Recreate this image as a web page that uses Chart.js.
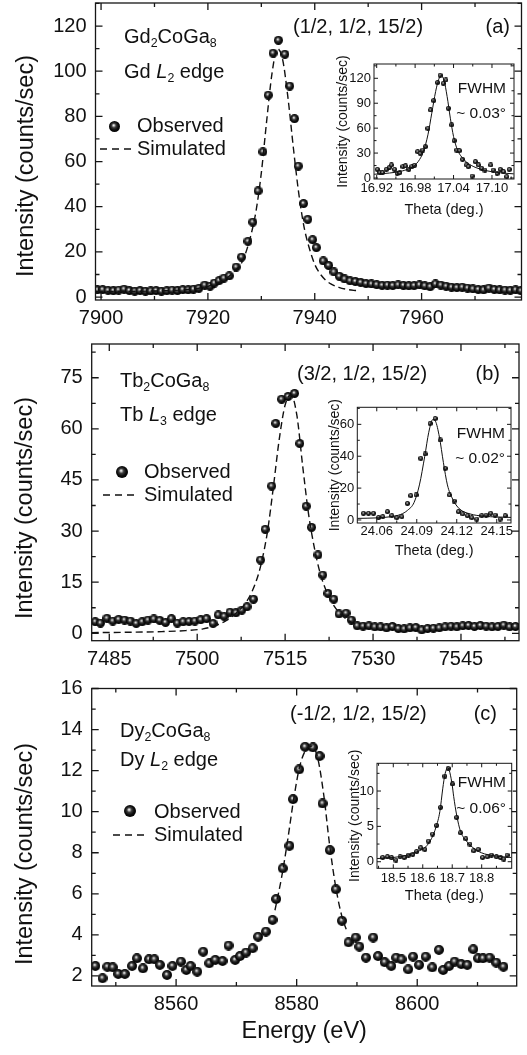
<!DOCTYPE html>
<html>
<head>
<meta charset="utf-8">
<title>Resonant scattering energy scans</title>
<script src="https://cdn.jsdelivr.net/npm/chart.js@4"></script>
<style>
  body { margin: 0; background: #fff; }
  #fig { position: relative; width: 527px; height: 1055px; overflow: hidden; background: #fff;
         font-family: "Liberation Sans", Arial, sans-serif; color: #111; }
  #fig canvas { position: absolute; }
  .t { position: absolute; white-space: nowrap; font-size: 20px; line-height: 20px; z-index: 5; }
  .s { position: absolute; white-space: nowrap; font-size: 15.5px; line-height: 15.5px; z-index: 5; }
  .yt { position: absolute; white-space: nowrap; font-size: 23.5px; line-height: 24px; z-index: 5;
        transform: translate(-50%, -50%) rotate(-90deg); }
  sub { font-size: 0.62em; vertical-align: -0.32em; line-height: 0; }
  .dash { position: absolute; z-index: 5; }
  #fig canvas.ball { z-index: 5; }
</style>
</head>
<body>
<div id="fig">
  <canvas id="mainA"></canvas>
  <canvas id="mainB"></canvas>
  <canvas id="mainC"></canvas>
  <canvas id="insetA"></canvas>
  <canvas id="insetB"></canvas>
  <canvas id="insetC"></canvas>

  <div class="yt" style="left:25px; top:166px;">Intensity (counts/sec)</div>
  <div class="yt" style="left:24px; top:508px;">Intensity (counts/sec)</div>
  <div class="yt" style="left:24px; top:854px;">Intensity (counts/sec)</div>

  <!-- panel (a) -->
  <div class="t" style="left:124px; top:26px;">Gd<sub>2</sub>CoGa<sub>8</sub></div>
  <div class="t" style="left:124px; top:61px;">Gd <i>L</i><sub>2</sub> edge</div>
  <div class="t" style="left:293px; top:16px;">(1/2, 1/2, 15/2)</div>
  <div class="t" style="right:17px; top:16px;">(a)</div>
  <canvas class="ball" data-d="11" style="left:108.5px; top:120.5px;"></canvas>
  <div class="t" style="left:137px; top:115px;">Observed</div>
  <svg class="dash" width="34" height="4" style="left:100px; top:147px;"><line x1="0" y1="2" x2="34" y2="2" stroke="#111" stroke-width="1.4" stroke-dasharray="7 5"/></svg>
  <div class="t" style="left:137px; top:138px;">Simulated</div>
  <div class="s" style="right:21px; top:80px;">FWHM</div>
  <div class="s" style="right:21px; top:105px;">~ 0.03°</div>

  <!-- panel (b) -->
  <div class="t" style="left:120px; top:370px;">Tb<sub>2</sub>CoGa<sub>8</sub></div>
  <div class="t" style="left:120px; top:404px;">Tb <i>L</i><sub>3</sub> edge</div>
  <div class="t" style="left:297px; top:363px;">(3/2, 1/2, 15/2)</div>
  <div class="t" style="right:27px; top:363px;">(b)</div>
  <canvas class="ball" data-d="12" style="left:116px; top:465.7px;"></canvas>
  <div class="t" style="left:144px; top:461px;">Observed</div>
  <svg class="dash" width="34" height="4" style="left:103px; top:493px;"><line x1="0" y1="2" x2="34" y2="2" stroke="#111" stroke-width="1.4" stroke-dasharray="7 5"/></svg>
  <div class="t" style="left:144px; top:484px;">Simulated</div>
  <div class="s" style="right:22px; top:425px;">FWHM</div>
  <div class="s" style="right:22px; top:450px;">~ 0.02°</div>

  <!-- panel (c) -->
  <div class="t" style="left:120px; top:720px;">Dy<sub>2</sub>CoGa<sub>8</sub></div>
  <div class="t" style="left:120px; top:749px;">Dy <i>L</i><sub>2</sub> edge</div>
  <div class="t" style="left:290px; top:703px;">(-1/2, 1/2, 15/2)</div>
  <div class="t" style="right:30px; top:703px;">(c)</div>
  <canvas class="ball" data-d="12" style="left:124px; top:805px;"></canvas>
  <div class="t" style="left:154px; top:801px;">Observed</div>
  <svg class="dash" width="34" height="4" style="left:113px; top:833px;"><line x1="0" y1="2" x2="34" y2="2" stroke="#111" stroke-width="1.4" stroke-dasharray="7 5"/></svg>
  <div class="t" style="left:154px; top:824px;">Simulated</div>
  <div class="s" style="right:21px; top:774px;">FWHM</div>
  <div class="s" style="right:21px; top:800px;">~ 0.06°</div>
</div>

<script>
// ---------- panel (a): Gd2CoGa8, Gd L2 edge ----------
const energyA = [7899.3, 7900.3, 7901.3, 7902.3, 7903.3, 7904.3, 7905.3, 7906.3, 7907.3, 7908.3,
  7909.3, 7910.3, 7911.3, 7912.3, 7913.3, 7914.3, 7915.3, 7916.3, 7917.3, 7918.3,
  7919.4, 7920.4, 7921.2, 7922.1, 7923.0, 7924.0, 7925.3, 7926.3, 7927.5, 7928.4,
  7929.4, 7930.3, 7931.3, 7932.2, 7933.2, 7934.4, 7935.3, 7936.2, 7936.9, 7937.9,
  7938.7, 7939.6, 7940.3, 7941.6, 7942.6, 7943.6, 7944.6, 7945.6, 7946.6, 7947.6,
  7948.6, 7949.6, 7950.6, 7951.6, 7952.6, 7953.6, 7954.6, 7955.6, 7956.6, 7957.6,
  7958.6, 7959.6, 7960.6, 7961.6, 7962.6, 7963.6, 7964.6, 7965.6, 7966.6, 7967.6,
  7968.6, 7969.6, 7970.6, 7971.6, 7972.6, 7973.6, 7974.6, 7975.6, 7976.6, 7977.6, 7978.6];
const countsA = [3.2, 3.3, 3.0, 2.8, 3.1, 3.5, 2.9, 2.6, 2.9, 2.6,
  2.7, 2.9, 2.6, 2.8, 3.1, 2.9, 3.3, 3.2, 3.5, 3.9,
  5.3, 4.8, 6.2, 7.3, 8.4, 9.4, 13.3, 17.7, 24.7, 33.2,
  47.0, 64.3, 89.4, 108.0, 113.7, 107.5, 93.4, 79.0, 58.0, 41.4,
  34.4, 25.4, 21.9, 16.0, 14.0, 11.1, 9.2, 8.0, 7.2, 6.9,
  6.5, 6.0, 5.8, 5.5, 5.2, 5.3, 5.1, 5.4, 5.2, 5.0,
  5.1, 5.4, 5.0, 4.6, 5.8, 5.3, 4.8, 4.4, 4.2, 4.4,
  4.0, 3.6, 3.4, 3.2, 4.0, 3.4, 3.2, 3.1, 3.0, 3.2, 2.8];
const simEnergyA = [7899, 7905, 7910, 7914, 7917, 7919, 7921, 7923, 7925, 7926.5, 7928, 7929, 7930,
  7931, 7932, 7933, 7934, 7935, 7936, 7937, 7938, 7939, 7940, 7941, 7942, 7943, 7944.5, 7946, 7948];
const simCountsA = [2.4, 2.5, 2.7, 3.0, 3.5, 4.2, 5.5, 7.6, 11.5, 16.0, 27.0, 38.0, 55.0,
  78.0, 99.0, 110.0, 105.0, 88.0, 66.0, 46.0, 31.0, 21.5, 14.5, 10.3, 7.6, 5.8, 4.3, 3.4, 2.8];
const xTicksA = [7900, 7920, 7940, 7960];
const xMinorA = [7910, 7930, 7950, 7970];
const yTicksA = [0, 20, 40, 60, 80, 100, 120];
const yMinorA = [10, 30, 50, 70, 90, 110, 130];

const thetaA = [16.921, 16.925, 16.929, 16.935, 16.940, 16.943, 16.948, 16.952, 16.956, 16.961,
  16.965, 16.970, 16.975, 16.979, 16.984, 16.988, 16.992, 16.996, 17.000, 17.004,
  17.009, 17.015, 17.019, 17.024, 17.028, 17.032, 17.037, 17.041, 17.045, 17.049,
  17.054, 17.060, 17.063, 17.069, 17.074, 17.079, 17.084, 17.089, 17.098, 17.102,
  17.108, 17.113, 17.118, 17.123, 17.127];
const scanA = [10.4, 6.4, 6.4, 10.4, 12.9, 15.7, 10.4, 5.6, 6.4, 13.7,
  14.5, 10.4, 13.7, 15.3, 31.7, 29.7, 33.7, 37.8, 59.8, 81.9,
  93.2, 114.9, 123.7, 114.0, 118.0, 83.9, 64.0, 45.0, 33.7, 32.9,
  22.5, 15.7, 13.7, 2.4, 19.7, 15.7, 11.6, 9.6, 15.7, 9.6,
  5.6, 10.4, 7.6, 1.6, 10.4];
const fitThetaA = [16.916, 16.94, 16.96, 16.975, 16.985, 16.993, 17.000, 17.006, 17.012, 17.017, 17.021,
  17.025, 17.030, 17.035, 17.040, 17.046, 17.053, 17.062, 17.075, 17.090, 17.110, 17.134];
const fitScanA = [4.5, 6.0, 8.5, 13.0, 20.0, 32.0, 52.0, 78.0, 104.0, 119.0, 123.0,
  118.0, 98.0, 72.0, 50.0, 34.0, 25.0, 18.0, 12.5, 9.0, 6.5, 5.0];
const insetXTicksA = [16.92, 16.98, 17.04, 17.10];
const insetXMinorA = [16.95, 17.01, 17.07, 17.13];
const insetYTicksA = [0, 30, 60, 90, 120];
const insetYMinorA = [15, 45, 75, 105, 135];

// ---------- panel (b): Tb2CoGa8, Tb L3 edge ----------
const energyB = [7482.6, 7483.5, 7484.6, 7485.6, 7486.6, 7487.6, 7488.6, 7489.6, 7490.6, 7491.6,
  7492.6, 7493.6, 7494.6, 7495.6, 7496.6, 7497.6, 7498.6, 7499.6, 7500.6, 7501.6,
  7502.7, 7503.6, 7504.6, 7505.6, 7506.6, 7507.6, 7508.5, 7509.6, 7510.8, 7511.6,
  7512.7, 7513.4, 7514.4, 7515.5, 7516.6, 7517.5, 7518.6, 7519.5, 7520.6, 7521.4,
  7522.3, 7523.3, 7524.2, 7525.4, 7526.3, 7527.3, 7528.3, 7529.3, 7530.3, 7531.3,
  7532.3, 7533.3, 7534.3, 7535.3, 7536.3, 7537.3, 7538.3, 7539.3, 7540.3, 7541.3,
  7542.3, 7543.3, 7544.3, 7545.3, 7546.3, 7547.3, 7548.3, 7549.3, 7550.3, 7551.3,
  7552.3, 7553.3, 7554.3];
const countsB = [3.4, 3.0, 4.4, 3.6, 4.1, 3.9, 3.6, 2.9, 3.4, 3.9,
  4.2, 3.8, 3.2, 4.3, 3.0, 3.4, 3.5, 3.6, 4.0, 4.3,
  2.9, 5.4, 5.0, 6.2, 6.0, 6.8, 7.8, 10.0, 21.5, 30.5,
  43.2, 61.6, 68.7, 69.5, 70.4, 55.7, 37.3, 31.1, 23.0, 17.1,
  11.7, 10.0, 5.7, 5.9, 3.9, 2.2, 2.1, 2.2, 1.9, 1.9,
  1.6, 2.0, 1.4, 1.3, 1.6, 1.7, 1.0, 1.4, 1.5, 1.6,
  1.9, 2.1, 1.9, 2.2, 2.3, 2.0, 2.3, 2.1, 1.9, 2.0,
  2.4, 1.9, 2.0];
const simEnergyB = [7482, 7488, 7494, 7498, 7501, 7503, 7505, 7507, 7508.5, 7510, 7511, 7512, 7513,
  7514, 7515, 7516, 7517, 7518, 7519, 7520, 7521, 7522, 7523, 7524, 7525, 7526, 7527];
const simCountsB = [0.2, 0.3, 0.5, 0.8, 1.3, 2.2, 3.8, 6.5, 9.5, 15.0, 21.0, 30.0, 43.0,
  57.0, 67.0, 70.0, 64.0, 49.0, 35.0, 25.0, 17.5, 12.5, 9.0, 6.5, 4.8, 3.5, 2.6];
const xTicksB = [7485, 7500, 7515, 7530, 7545];
const xMinorB = [7492.5, 7507.5, 7522.5, 7537.5, 7552.5];
const yTicksB = [0, 15, 30, 45, 60, 75];
const yMinorB = [7.5, 22.5, 37.5, 52.5, 67.5, 82.5];

const thetaB = [24.0500, 24.0538, 24.0575, 24.0613, 24.0645, 24.0680, 24.0713, 24.0750, 24.0788, 24.0830,
  24.0855, 24.0895, 24.0930, 24.0963, 24.1000, 24.1038, 24.1075, 24.1113, 24.1145, 24.1180,
  24.1213, 24.1245, 24.1280, 24.1313, 24.1350, 24.1388, 24.1420, 24.1455, 24.1488, 24.1525, 24.1563];
const scanB = [4.2, 4.2, 4.2, 1.5, 2.1, 5.2, 2.7, 1.5, 2.1, 10.4,
  15.3, 15.7, 38.7, 41.4, 60.6, 63.7, 50.2, 32.4, 15.7, 11.9,
  5.2, 3.8, 2.7, 1.5, 0.6, 2.7, 3.1, 4.2, 3.1, 0.6, 2.7];
const fitThetaB = [24.0455, 24.060, 24.070, 24.078, 24.083, 24.088, 24.092, 24.096, 24.099, 24.102,
  24.104, 24.107, 24.110, 24.113, 24.117, 24.122, 24.130, 24.140, 24.1607];
const fitScanB = [1.0, 1.3, 2.0, 3.5, 6.0, 11.0, 22.0, 40.0, 55.0, 63.0,
  62.0, 52.0, 36.0, 22.0, 13.0, 7.0, 3.8, 2.4, 1.6];
const insetXTicksB = [24.06, 24.09, 24.12, 24.15];
const insetXMinorB = [24.075, 24.105, 24.135];
const insetYTicksB = [0, 20, 40, 60];
const insetYMinorB = [10, 30, 50, 70];

// ---------- panel (c): Dy2CoGa8, Dy L2 edge ----------
const energyC = [8546.6, 8547.8, 8548.6, 8549.5, 8550.4, 8551.5, 8552.7, 8553.5, 8554.5, 8555.5,
  8556.4, 8557.3, 8558.5, 8559.4, 8560.8, 8561.7, 8562.4, 8563.5, 8564.5, 8565.5,
  8566.5, 8567.7, 8568.7, 8569.8, 8570.6, 8571.6, 8572.7, 8573.6, 8574.9, 8576.0,
  8576.6, 8577.7, 8578.8, 8579.4, 8580.4, 8581.4, 8582.7, 8583.8, 8584.3, 8585.5,
  8586.5, 8587.5, 8588.6, 8589.8, 8590.4, 8591.5, 8592.7, 8593.5, 8594.6, 8595.7,
  8596.5, 8597.4, 8598.5, 8599.3, 8600.3, 8601.4, 8602.5, 8603.6, 8604.3, 8605.3,
  8606.2, 8607.3, 8608.3, 8609.3, 8610.1, 8610.9, 8612.0, 8613.1, 8614.3];
const countsC = [2.49, 1.89, 2.45, 2.42, 2.10, 2.10, 2.49, 2.86, 2.37, 2.81,
  2.81, 2.54, 2.05, 2.49, 2.70, 2.29, 2.49, 2.21, 3.18, 2.62,
  2.78, 2.73, 3.48, 2.78, 2.97, 3.14, 3.35, 3.91, 4.16, 4.73,
  5.75, 7.24, 8.34, 10.61, 12.06, 13.16, 13.13, 12.71, 10.40, 8.13,
  6.22, 4.69, 3.64, 3.87, 3.43, 2.89, 3.87, 2.97, 2.67, 2.49,
  2.89, 2.81, 2.32, 2.94, 2.54, 2.94, 2.42, 3.27, 2.29, 2.49,
  2.70, 2.58, 2.54, 3.30, 2.86, 2.86, 2.89, 2.65, 2.45];
const simEnergyC = [8576.4, 8577.5, 8578.5, 8579.5, 8580.5, 8581.5, 8582.5, 8583.5, 8584.5, 8585.5,
  8586.5, 8587.5, 8588.3];
const simCountsC = [5.2, 6.8, 8.6, 10.6, 12.2, 13.0, 13.2, 12.6, 10.8, 8.3,
  6.3, 4.9, 4.2];
const xTicksC = [8560, 8580, 8600];
const xMinorC = [8550, 8570, 8590, 8610];
const yTicksC = [2, 4, 6, 8, 10, 12, 14, 16];
const yMinorC = [3, 5, 7, 9, 11, 13, 15];

const thetaC = [18.464, 18.480, 18.494, 18.509, 18.523, 18.537, 18.551, 18.566, 18.579, 18.593,
  18.607, 18.619, 18.633, 18.647, 18.660, 18.675, 18.686, 18.701, 18.715, 18.728,
  18.746, 18.760, 18.773, 18.788, 18.803, 18.819, 18.833, 18.850, 18.864, 18.875, 18.886];
const scanC = [0.61, 0.71, 0.57, 0.24, 0.71, 0.61, 0.94, 1.04, 1.42, 1.98,
  1.75, 2.92, 3.92, 5.14, 7.69, 12.1, 13.2, 11.0, 6.27, 4.10,
  3.25, 2.50, 1.56, 1.75, 0.61, 0.71, 0.94, 0.71, 0.61, 0.38, 0.94];
const fitThetaC = [18.445, 18.50, 18.55, 18.58, 18.61, 18.63, 18.645, 18.658, 18.668, 18.675,
  18.685, 18.692, 18.700, 18.705, 18.715, 18.728, 18.745, 18.770, 18.800, 18.840, 18.900];
const fitScanC = [0.45, 0.6, 0.95, 1.4, 2.1, 3.3, 4.9, 7.1, 10.4, 12.3,
  13.3, 12.6, 10.8, 9.2, 6.6, 4.3, 3.1, 2.0, 1.25, 0.85, 0.6];
const insetXTicksC = [18.5, 18.6, 18.7, 18.8];
const insetXMinorC = [18.45, 18.55, 18.65, 18.75, 18.85];
const insetYTicksC = [0, 5, 10];
const insetYMinorC = [2.5, 7.5, 12.5];

// ---------- helpers ----------
Chart.defaults.font.family = "'Liberation Sans', Arial, sans-serif";
Chart.defaults.color = '#111';

const pts = (xs, ys) => xs.map((x, i) => ({ x, y: ys[i] }));

// shaded black sphere used as marker
function sphere(d) {
  const c = document.createElement('canvas');
  c.width = c.height = d;
  const ctx = c.getContext('2d');
  const g = ctx.createRadialGradient(d * 0.42, d * 0.38, 0, d * 0.48, d * 0.48, d * 0.58);
  g.addColorStop(0, '#ffffff');
  g.addColorStop(0.12, '#c4c4c4');
  g.addColorStop(0.35, '#3c3c3c');
  g.addColorStop(0.65, '#0c0c0c');
  g.addColorStop(1, '#000');
  ctx.beginPath();
  ctx.arc(d / 2, d / 2, d / 2, 0, Math.PI * 2);
  ctx.fillStyle = g;
  ctx.fill();
  return c;
}

document.querySelectorAll('canvas.ball').forEach(c => {
  const d = +c.dataset.d;
  c.width = c.height = d;
  c.style.width = c.style.height = d + 'px';
  c.getContext('2d').drawImage(sphere(d), 0, 0);
});

// frame box with inward ticks on all four sides
const frameTicks = {
  id: 'frameTicks',
  beforeDatasetsDraw(chart, args, o) {
    if (!o.fill) return;
    const a = chart.chartArea, ctx = chart.ctx;
    ctx.save();
    ctx.fillStyle = o.fill;
    ctx.fillRect(a.left, a.top, a.right - a.left, a.bottom - a.top);
    ctx.restore();
  },
  afterDatasetsDraw(chart, args, o) {
    const { ctx, chartArea: a, scales } = chart;
    ctx.save();
    ctx.strokeStyle = '#161616';
    ctx.lineWidth = o.width;
    ctx.strokeRect(a.left, a.top, a.right - a.left, a.bottom - a.top);
    ctx.beginPath();
    const mark = (scale, values, len) => values.forEach(v => {
      const p = scale.getPixelForValue(v);
      if (scale.isHorizontal()) {
        if (p < a.left || p > a.right) return;
        ctx.moveTo(p, a.bottom); ctx.lineTo(p, a.bottom - len);
        ctx.moveTo(p, a.top); ctx.lineTo(p, a.top + len);
      } else {
        if (p < a.top || p > a.bottom) return;
        ctx.moveTo(a.left, p); ctx.lineTo(a.left + len, p);
        ctx.moveTo(a.right, p); ctx.lineTo(a.right - len, p);
      }
    });
    mark(scales.x, scales.x.ticks.map(t => t.value), o.major);
    mark(scales.x, o.xMinor, o.minor);
    mark(scales.y, scales.y.ticks.map(t => t.value), o.major);
    mark(scales.y, o.yMinor, o.minor);
    ctx.stroke();
    ctx.restore();
  }
};

// place a canvas (page box) so that its chart area lands on the given frame
function build(id, box, area, s) {
  const canvas = document.getElementById(id);
  canvas.width = box.w; canvas.height = box.h;
  canvas.style.left = box.x + 'px'; canvas.style.top = box.y + 'px';
  canvas.style.width = box.w + 'px'; canvas.style.height = box.h + 'px';
  const yWidth = area.l - box.x;
  const xHeight = box.y + box.h - area.b;

  const axis = (ticks, fmt, size, pad) => ({
    type: 'linear',
    grid: { display: false, drawTicks: false },
    border: { display: false },
    afterBuildTicks: sc => { sc.ticks = ticks.map(v => ({ value: v })); },
    ticks: { autoSkip: false, maxRotation: 0, minRotation: 0, padding: pad,
             font: { size }, color: '#111', callback: fmt }
  });

  const x = axis(s.xTicks, s.xFmt, s.tickSize, s.xPad);
  x.min = s.xRange[0]; x.max = s.xRange[1];
  x.afterFit = sc => { sc.height = xHeight; };
  x.title = s.xTitle || { display: false };

  const y = axis(s.yTicks, v => String(v), s.tickSize, s.yPad);
  y.min = s.yRange[0]; y.max = s.yRange[1];
  y.afterFit = sc => { sc.width = yWidth; };
  y.title = s.yTitle || { display: false };

  return new Chart(canvas, {
    type: 'scatter',
    data: {
      datasets: [
        { data: pts(s.lineX, s.lineY), showLine: true, borderColor: '#111', borderWidth: s.lineWidth,
          borderDash: s.dash, pointRadius: 0, cubicInterpolationMode: 'monotone', order: 0 },
        { data: pts(s.obsX, s.obsY), showLine: false, pointStyle: sphere(s.ball),
          pointRadius: s.ball / 2, order: 1 }
      ]
    },
    options: {
      responsive: false,
      animation: false,
      devicePixelRatio: 1,
      events: [],
      layout: { padding: { top: area.t - box.y, right: box.x + box.w - area.r, left: 0, bottom: 0 } },
      scales: { x, y },
      plugins: {
        legend: { display: false },
        tooltip: { enabled: false },
        frameTicks: { width: s.frameWidth, major: s.major, minor: s.minor,
                      xMinor: s.xMinor, yMinor: s.yMinor, fill: s.fill || null }
      }
    },
    plugins: [frameTicks]
  });
}

const plain = v => String(v);
const mainStyle = { tickSize: 20, yPad: 9, frameWidth: 1.3, major: 7, minor: 4,
                    lineWidth: 1.4, dash: [7, 4] };
const insetStyle = { tickSize: 13, yPad: 3, frameWidth: 1, major: 4, minor: 2.5,
                     lineWidth: 1, dash: [], ball: 5, fill: '#ffffff' };
const insetYTitle = pad => ({ display: true, text: 'Intensity (counts/sec)', font: { size: 14 },
                              color: '#111', padding: { top: pad, bottom: 0 } });
const thetaTitle = pad => ({ display: true, text: 'Theta (deg.)', font: { size: 14.5 },
                             color: '#111', padding: { top: 0, bottom: pad } });

// main panels
build('mainA', { x: 0, y: -24, w: 527, h: 358 }, { l: 95.5, t: 3, r: 523, b: 300 },
  Object.assign({}, mainStyle, {
    obsX: energyA, obsY: countsA, lineX: simEnergyA, lineY: simCountsA, ball: 9,
    xTicks: xTicksA, xMinor: xMinorA, yTicks: yTicksA, yMinor: yMinorA,
    xRange: [7898.96, 7978.7], yRange: [-1.3, 130.2], xFmt: plain, xPad: 6
  }));

build('mainB', { x: 0, y: 318, w: 527, h: 358 }, { l: 91.7, t: 344, r: 519, b: 640.7 },
  Object.assign({}, mainStyle, {
    obsX: energyB, obsY: countsB, lineX: simEnergyB, lineY: simCountsB, ball: 9,
    xTicks: xTicksB, xMinor: xMinorB, yTicks: yTicksB, yMinor: yMinorB,
    xRange: [7482.0, 7554.9], yRange: [-2.17, 84.9], xFmt: plain, xPad: 6.3
  }));

build('mainC', { x: 0, y: 662, w: 527, h: 393 }, { l: 91.7, t: 688.5, r: 516.7, b: 986 },
  Object.assign({}, mainStyle, {
    obsX: energyC, obsY: countsC, lineX: simEnergyC, lineY: simCountsC, ball: 10,
    xTicks: xTicksC, xMinor: xMinorC, yTicks: yTicksC, yMinor: yMinorC,
    xRange: [8546.0, 8616.5], yRange: [1.51, 16], xFmt: plain, xPad: 6,
    xTitle: { display: true, text: 'Energy (eV)', font: { size: 23.5 }, color: '#111',
              padding: { top: 0, bottom: 8.9 } }
  }));

// insets (rocking curves)
build('insetA', { x: 330, y: 48, w: 190, h: 177 }, { l: 374, t: 64, r: 514, b: 179 },
  Object.assign({}, insetStyle, {
    obsX: thetaA, obsY: scanA, lineX: fitThetaA, lineY: fitScanA,
    xTicks: insetXTicksA, xMinor: insetXMinorA, yTicks: insetYTicksA, yMinor: insetYMinorA,
    xRange: [16.9158, 17.1344], yRange: [-1.2, 137.2], xFmt: v => v.toFixed(2), xPad: 2,
    yTitle: insetYTitle(4.6), xTitle: thetaTitle(6.3)
  }));

build('insetB', { x: 318, y: 391, w: 199, h: 174 }, { l: 357.3, t: 407.3, r: 511, b: 523 },
  Object.assign({}, insetStyle, {
    obsX: thetaB, obsY: scanB, lineX: fitThetaB, lineY: fitScanB,
    xTicks: insetXTicksB, xMinor: insetXMinorB, yTicks: insetYTicksB, yMinor: insetYMinorB,
    xRange: [24.0454, 24.1607], yRange: [-1.9, 70.7], xFmt: v => v.toFixed(2), xPad: 1,
    yTitle: insetYTitle(8.6), xTitle: thetaTitle(5.3)
  }));

build('insetC', { x: 340, y: 747, w: 178, h: 163 }, { l: 377, t: 763.3, r: 511.7, b: 868.3 },
  Object.assign({}, insetStyle, {
    obsX: thetaC, obsY: scanC, lineX: fitThetaC, lineY: fitScanC,
    xTicks: insetXTicksC, xMinor: insetXMinorC, yTicks: insetYTicksC, yMinor: insetYMinorC,
    xRange: [18.4447, 18.9018], yRange: [-0.93, 13.92], xFmt: v => v.toFixed(1), xPad: 2.2,
    yTitle: insetYTitle(6.6), xTitle: thetaTitle(5.6)
  }));
</script>
</body>
</html>
